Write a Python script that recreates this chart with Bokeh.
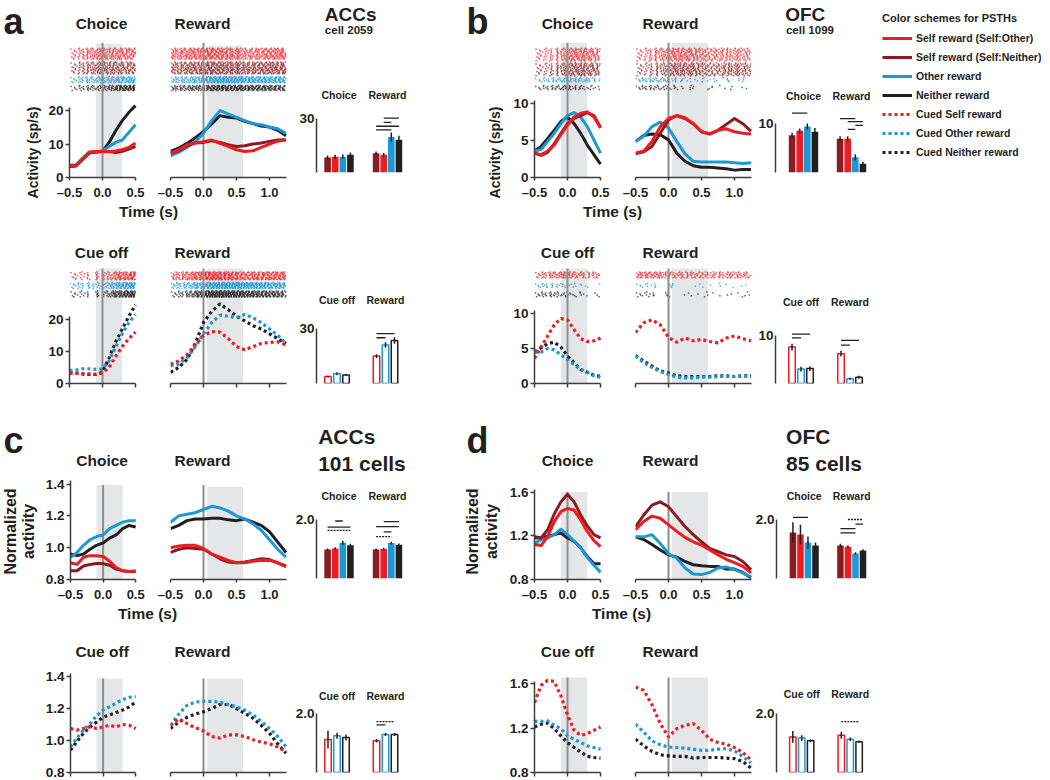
import numpy as np
from bokeh.plotting import figure
from bokeh.layouts import row, column
from bokeh.models import (Range1d, FixedTicker, Label, Legend, LegendItem, Spacer,
                          ColumnDataSource, LinearAxis, PrintfTickFormatter)
from bokeh.embed import file_html
from bokeh.resources import INLINE

FONT = "Liberation Sans"
RED, DKRED, BLUE, BLACK = "#ec1c24", "#8a1c1f", "#1b98d5", "#231f20"
AXC = "#3d3d3d"
SHADE = "#e5e6e7"
ZLINE = "#8e8e8e"

# ---------------------------------------------------------------- data
t_choice = [-0.5, -0.4, -0.3, -0.2, -0.1, 0.0, 0.1, 0.2, 0.3, 0.4, 0.5]
t_reward = [-0.5, -0.375, -0.25, -0.125, 0.0, 0.125, 0.25, 0.375, 0.5, 0.625,
            0.75, 0.875, 1.0, 1.125, 1.25]
choice_window = [-0.1, 0.3]
reward_window = [0.05, 0.6]
choice_ticks = [-0.5, 0, 0.5]
reward_ticks = [-0.5, 0, 0.5, 1.0]
x_tick_labels = {-0.5: "\u20130.5", 0: "0.0", 0.5: "0.5", 1: "1.0"}

# a: ACCs cell 2059 (sp/s)
a_choice_red = [3.5, 3.6, 5.6, 7.6, 7.8, 7.8, 7.7, 7.9, 8.3, 9.0, 10.3]
a_choice_dkred = [3.3, 3.5, 5.5, 7.5, 7.7, 7.8, 7.8, 7.5, 7.8, 8.5, 9.3]
a_choice_blue = [3.7, 3.8, 5.8, 7.5, 7.6, 8.0, 9.3, 10.5, 11.2, 13.5, 15.8]
a_choice_black = [3.3, 3.5, 5.5, 7.3, 7.6, 7.8, 10.5, 14.0, 17.0, 19.5, 21.5]
a_reward_red = [7.3, 8.3, 9.8, 10.4, 10.7, 11.2, 10.2, 9.3, 8.3, 7.8, 8.0, 9.0, 10.0, 10.9, 11.2]
a_reward_dkred = [7.3, 8.0, 9.5, 10.3, 10.5, 11.0, 10.5, 9.8, 9.3, 9.5, 10.0, 10.3, 10.8, 11.2, 11.3]
a_reward_blue = [6.5, 7.6, 9.0, 10.7, 13.2, 17.0, 20.0, 19.0, 18.0, 17.0, 16.1, 15.8, 15.1, 14.6, 13.2]
a_reward_black = [7.8, 8.8, 10.2, 11.9, 13.7, 16.0, 18.5, 18.0, 17.8, 16.8, 16.1, 15.4, 15.1, 14.1, 12.5]
a_cue_red = [3.2, 3.2, 3.0, 3.0, 2.9, 3.3, 5.0, 8.5, 11.5, 14.0, 16.0]
a_cue_blue = [4.0, 4.2, 4.6, 4.6, 4.4, 4.5, 7.0, 11.5, 15.5, 19.0, 21.5]
a_cue_black = [3.3, 3.2, 3.0, 2.8, 2.8, 3.5, 8.0, 13.0, 17.0, 21.0, 24.5]
a_cuedrew_red = [6.0, 7.0, 9.0, 12.0, 15.0, 16.2, 16.0, 14.0, 11.5, 10.5, 11.5, 12.5, 12.8, 13.0, 12.0]
a_cuedrew_blue = [5.5, 6.0, 8.0, 11.5, 15.5, 19.0, 21.3, 21.0, 20.5, 21.5, 20.5, 19.0, 17.0, 15.0, 12.5]
a_cuedrew_black = [3.5, 5.0, 7.5, 12.5, 19.0, 22.5, 24.8, 23.0, 21.0, 19.5, 18.0, 17.0, 15.5, 14.0, 12.5]

# b: OFC cell 1099 (sp/s)
b_choice_red = [3.3, 3.1, 3.6, 4.4, 5.8, 7.1, 8.2, 8.7, 8.9, 8.2, 6.7]
b_choice_dkred = [3.3, 3.0, 3.4, 4.6, 6.0, 7.3, 8.0, 8.4, 8.8, 8.4, 6.8]
b_choice_blue = [3.6, 3.8, 4.9, 6.0, 7.3, 8.4, 8.8, 8.2, 6.9, 5.1, 3.3]
b_choice_black = [3.6, 4.2, 5.3, 6.4, 7.6, 8.2, 7.3, 6.0, 4.4, 3.1, 1.8]
b_reward_red = [3.3, 3.6, 4.9, 6.9, 8.0, 8.4, 8.1, 7.3, 6.2, 5.9, 6.4, 6.6, 6.2, 6.0, 5.9]
b_reward_dkred = [3.2, 3.5, 4.2, 6.0, 7.8, 8.4, 8.0, 7.3, 6.2, 5.9, 6.4, 7.2, 8.0, 7.3, 6.3]
b_reward_blue = [4.9, 5.6, 6.9, 7.5, 6.7, 4.9, 3.2, 2.2, 2.1, 2.1, 2.1, 2.1, 2.0, 1.9, 2.0]
b_reward_black = [4.9, 5.7, 5.9, 5.8, 5.1, 3.3, 2.2, 1.6, 1.4, 1.4, 1.3, 1.2, 1.0, 1.1, 1.1]
b_cue_red = [3.6, 5.2, 6.8, 8.4, 9.3, 9.1, 7.7, 6.4, 6.0, 6.1, 6.5]
b_cue_blue = [4.5, 4.5, 5.0, 4.8, 4.1, 3.4, 2.7, 2.0, 1.6, 1.1, 0.9]
b_cue_black = [4.5, 5.1, 5.7, 5.9, 5.2, 3.9, 3.0, 2.0, 1.6, 1.2, 1.0]
b_cuedrew_red = [7.3, 8.7, 9.1, 8.4, 6.6, 5.9, 6.5, 6.1, 6.3, 6.0, 5.8, 6.5, 6.8, 6.4, 6.1]
b_cuedrew_blue = [3.9, 3.0, 2.3, 1.7, 1.3, 0.9, 0.8, 0.8, 0.9, 0.9, 1.0, 1.0, 1.0, 1.0, 1.0]
b_cuedrew_black = [4.0, 3.2, 2.5, 1.8, 1.5, 1.1, 1.0, 1.0, 1.0, 1.0, 1.1, 1.1, 1.0, 1.1, 1.1]

# c: ACCs 101 cells (normalized)
c_choice_red = [0.905, 0.895, 0.94, 0.95, 0.95, 0.945, 0.915, 0.875, 0.855, 0.85, 0.855]
c_choice_dkred = [0.855, 0.855, 0.885, 0.895, 0.9, 0.9, 0.89, 0.865, 0.855, 0.85, 0.85]
c_choice_blue = [0.94, 0.97, 1.015, 1.05, 1.07, 1.08, 1.12, 1.14, 1.16, 1.17, 1.17]
c_choice_black = [0.96, 0.95, 0.96, 0.99, 1.015, 1.03, 1.06, 1.08, 1.12, 1.14, 1.13]
c_reward_red = [1.0, 1.01, 1.015, 1.015, 0.995, 0.96, 0.94, 0.92, 0.905, 0.905, 0.915, 0.92, 0.92, 0.905, 0.88]
c_reward_dkred = [0.97, 0.99, 1.0, 0.995, 0.99, 0.96, 0.93, 0.91, 0.905, 0.91, 0.92, 0.93, 0.925, 0.905, 0.885]
c_reward_blue = [1.16, 1.2, 1.21, 1.22, 1.24, 1.26, 1.25, 1.23, 1.2, 1.18, 1.15, 1.11, 1.05, 0.99, 0.94]
c_reward_black = [1.12, 1.14, 1.17, 1.18, 1.18, 1.185, 1.185, 1.175, 1.17, 1.18, 1.16, 1.14, 1.1, 1.035, 0.97]
c_cue_red = [1.075, 1.065, 1.075, 1.085, 1.075, 1.085, 1.095, 1.085, 1.1, 1.095, 1.075]
c_cue_blue = [0.96, 1.015, 1.065, 1.105, 1.155, 1.19, 1.21, 1.235, 1.255, 1.27, 1.275]
c_cue_black = [0.94, 0.995, 1.045, 1.085, 1.115, 1.145, 1.16, 1.175, 1.19, 1.21, 1.24]
c_cuedrew_red = [1.095, 1.135, 1.105, 1.08, 1.06, 1.025, 1.015, 1.035, 1.035, 1.025, 1.005, 0.99, 0.98, 0.96, 0.93]
c_cuedrew_blue = [1.095, 1.165, 1.22, 1.24, 1.245, 1.245, 1.24, 1.225, 1.21, 1.19, 1.16, 1.12, 1.075, 1.025, 0.96]
c_cuedrew_black = [1.075, 1.115, 1.145, 1.165, 1.18, 1.2, 1.225, 1.225, 1.2, 1.17, 1.14, 1.095, 1.045, 0.98, 0.92]

# d: OFC 85 cells (normalized)
d_choice_red = [1.12, 1.11, 1.195, 1.33, 1.42, 1.45, 1.435, 1.345, 1.24, 1.155, 1.1]
d_choice_dkred = [1.18, 1.18, 1.255, 1.4, 1.51, 1.58, 1.51, 1.39, 1.29, 1.21, 1.18]
d_choice_blue = [1.13, 1.165, 1.18, 1.21, 1.26, 1.21, 1.15, 1.09, 1.0, 0.93, 0.865]
d_choice_black = [1.19, 1.18, 1.195, 1.21, 1.225, 1.18, 1.15, 1.09, 1.01, 0.945, 0.945]
d_reward_red = [1.255, 1.33, 1.38, 1.36, 1.3, 1.24, 1.185, 1.145, 1.115, 1.07, 1.025, 0.985, 0.955, 0.92, 0.86]
d_reward_dkred = [1.28, 1.39, 1.48, 1.51, 1.465, 1.375, 1.285, 1.21, 1.145, 1.085, 1.055, 1.025, 1.01, 0.965, 0.89]
d_reward_blue = [1.19, 1.19, 1.21, 1.13, 1.035, 0.995, 0.905, 0.85, 0.845, 0.865, 0.905, 0.915, 0.89, 0.86, 0.825]
d_reward_black = [1.19, 1.165, 1.12, 1.07, 1.025, 1.005, 0.965, 0.935, 0.925, 0.92, 0.92, 0.895, 0.895, 0.865, 0.815]
d_cue_red = [1.43, 1.585, 1.63, 1.62, 1.49, 1.32, 1.18, 1.135, 1.15, 1.18, 1.21]
d_cue_blue = [1.26, 1.26, 1.265, 1.225, 1.195, 1.13, 1.1, 1.07, 1.04, 1.025, 1.01]
d_cue_black = [1.21, 1.235, 1.245, 1.195, 1.13, 1.07, 1.025, 0.985, 0.945, 0.935, 0.93]
d_cuedrew_red = [1.57, 1.54, 1.41, 1.24, 1.12, 1.195, 1.225, 1.24, 1.18, 1.1, 1.07, 1.055, 1.025, 0.98, 0.915]
d_cuedrew_blue = [1.235, 1.165, 1.085, 1.05, 1.03, 1.025, 1.02, 1.01, 1.0, 1.0, 1.01, 1.015, 0.995, 0.945, 0.885]
d_cuedrew_black = [1.1, 1.04, 0.99, 0.96, 0.95, 0.945, 0.945, 0.93, 0.935, 0.935, 0.935, 0.93, 0.925, 0.9, 0.84]

# bar charts (order: self:neither, self:other, other, neither / cued self, other, neither)
a_bar_choice = [8.4, 8.8, 8.8, 9.9];   a_bar_choice_err = [1.0, 1.0, 1.2, 1.2]
a_bar_reward = [10.7, 9.9, 19.7, 18.2]; a_bar_reward_err = [1.0, 1.0, 2.5, 2.2]
a_sig_reward = [(1, 3, 30.2, "solid"), (1, 2, 27.9, "solid"), (0, 3, 25.7, "solid"), (0, 2, 23.7, "solid")]
a_bar_cue = [3.8, 5.3, 4.7];          a_bar_cue_err = [0.5, 0.8, 0.5]
a_bar_cuedrew = [15.0, 21.0, 23.5];   a_bar_cuedrew_err = [1.0, 1.5, 1.8]
a_sig_cuedrew = [(0, 2, 27.3, "solid"), (0, 1, 25.0, "solid")]

b_bar_choice = [7.6, 8.5, 9.4, 8.3];  b_bar_choice_err = [0.5, 0.5, 0.6, 0.8]
b_sig_choice = [(0, 2, 12.1, "solid")]
b_bar_reward = [6.9, 6.9, 3.1, 1.8];  b_bar_reward_err = [0.5, 0.5, 0.6, 0.4]
b_sig_reward = [(0, 2, 11.0, "solid"), (1, 3, 10.4, "solid"), (2, 3, 9.6, "solid"), (1, 2, 8.8, "solid")]
b_bar_cue = [7.6, 3.0, 3.1];          b_bar_cue_err = [0.7, 0.5, 0.5]
b_sig_cue = [(0, 2, 10.3, "solid"), (0, 1, 9.5, "solid")]
b_bar_cuedrew = [6.2, 1.0, 1.3];      b_bar_cuedrew_err = [0.6, 0.2, 0.3]
b_sig_cuedrew = [(0, 2, 9.0, "solid"), (0, 1, 8.0, "solid")]

c_bar_choice = [0.98, 1.02, 1.21, 1.13]; c_bar_choice_err = [0.04, 0.04, 0.07, 0.05]
c_sig_choice = [(1, 2, 1.95, "solid"), (0, 3, 1.74, "solid"), (0, 3, 1.63, "dashed")]
c_bar_reward = [0.98, 1.0, 1.2, 1.14];   c_bar_reward_err = [0.04, 0.04, 0.05, 0.05]
c_sig_reward = [(1, 3, 1.93, "solid"), (0, 3, 1.76, "solid"), (1, 2, 1.58, "solid"), (0, 2, 1.42, "dashed")]
c_bar_cue = [1.12, 1.25, 1.19];          c_bar_cue_err = [0.3, 0.1, 0.1]
c_bar_cuedrew = [1.08, 1.29, 1.29];      c_bar_cuedrew_err = [0.06, 0.05, 0.05]
c_sig_cuedrew = [(0, 2, 1.73, "dashed"), (0, 1, 1.62, "solid")]

d_bar_choice = [1.56, 1.49, 1.22, 1.12]; d_bar_choice_err = [0.35, 0.33, 0.2, 0.1]
d_sig_choice = [(0, 2, 2.07, "solid")]
d_bar_reward = [1.12, 1.08, 0.85, 0.95]; d_bar_reward_err = [0.06, 0.05, 0.04, 0.04]
d_sig_reward = [(1, 3, 2.0, "dashed"), (2, 3, 1.84, "solid"), (0, 2, 1.69, "solid"), (0, 2, 1.55, "solid")]
d_bar_cue = [1.21, 1.17, 1.08];          d_bar_cue_err = [0.2, 0.1, 0.05]
d_bar_cuedrew = [1.27, 1.13, 1.05];      d_bar_cuedrew_err = [0.12, 0.06, 0.04]
d_sig_cuedrew = [(0, 2, 1.73, "dashed")]

legend_labels = ["Self reward (Self:Other)", "Self reward (Self:Neither)", "Other reward",
                 "Neither reward", "Cued Self reward", "Cued Other reward", "Cued Neither reward"]
legend_colors = [RED, DKRED, BLUE, BLACK, RED, BLUE, BLACK]
legend_dotted = [False, False, False, False, True, True, True]

# ---------------------------------------------------------------- layout constants (page px)
SX = 66.0
T0 = (0, 42)
L1, L2, L3 = (42, 150, 69), (150, 288, 170), (288, 460, 316)
T1 = (460, 506)
R1, R2, R3 = (506, 620, 534), (620, 752, 635), (752, 870, 775)
LEGX = (870, 1050)
B1, B2, B3, B4 = (0, 224), (224, 410), (410, 626), (626, 780)
BASE_FIX = 0.42   # text baseline compensation (fraction of font size)
MID_FIX = 0.20
PI2 = np.pi / 2


def ident(v):
    return v


def make_fig(fx0, fx1, fy0, fy1, fl, fb, x0, sx, y0, sy):
    p = figure(width=fx1 - fx0, height=fy1 - fy0, output_backend="svg", toolbar_location=None,
               x_axis_location=None, y_axis_location=None, min_border=0,
               min_border_left=fl - fx0, min_border_right=0, min_border_top=0,
               min_border_bottom=fy1 - fb,
               x_range=Range1d(x0, x0 + (fx1 - fl) / sx),
               y_range=Range1d(y0, y0 + (fb - fy0) / sy))
    p.outline_line_color = None
    p.grid.visible = False
    p.title.visible = False

    def fx(X):
        return x0 + (X - fl) / sx

    def fy(Y):
        return y0 + (fb - Y) / sy
    return p, fx, fy


def text_fig(xs, ys):
    p = figure(width=xs[1] - xs[0], height=ys[1] - ys[0], output_backend="svg",
               toolbar_location=None, x_axis_location=None, y_axis_location=None, min_border=0,
               x_range=Range1d(xs[0], xs[1]), y_range=Range1d(ys[1], ys[0]))
    p.outline_line_color = None
    p.grid.visible = False
    p.title.visible = False
    return p


def add_axis(p, side, ticks, bounds, overrides=None, fmt=None, labels=True, tick_out=4, standoff=3,
             size="13.5px"):
    ax = LinearAxis(ticker=FixedTicker(ticks=ticks), bounds=bounds)
    if overrides:
        ax.major_label_overrides = overrides
    if fmt:
        ax.formatter = PrintfTickFormatter(format=fmt)
    ax.axis_line_color = AXC
    ax.axis_line_width = 1.5
    ax.major_tick_line_color = AXC if tick_out > 0 else None
    ax.major_tick_line_width = 1.5
    ax.major_tick_in = 0
    ax.major_tick_out = tick_out
    ax.minor_tick_line_color = None
    ax.major_label_standoff = standoff
    ax.major_label_text_font = FONT
    ax.major_label_text_font_style = "bold"
    ax.major_label_text_font_size = size if labels else "0px"
    ax.major_label_text_color = BLACK
    p.add_layout(ax, side)


def lab(p, fx, fy, x, y, text, size, align="left", rotated=False):
    s = float(size.replace("px", ""))
    if rotated:
        p.add_layout(Label(x=fx(x - MID_FIX * s), y=fy(y), text=text, text_font=FONT,
                           text_font_size=size, text_font_style="bold", text_align="center",
                           text_baseline="middle", angle=PI2, text_color=BLACK))
    else:
        p.add_layout(Label(x=fx(x), y=fy(y - BASE_FIX * s), text=text, text_font=FONT,
                           text_font_size=size, text_font_style="bold", text_align=align,
                           text_baseline="alphabetic", text_color=BLACK))


def raster(p, fy, times, rates, ytop, ybot, color, dens=2.4):
    t0, t1 = times[0], times[-1]
    dt = 0.004
    tt = np.arange(t0, t1 + 1e-9, dt)
    r = np.interp(tt, times, rates)
    n = int(round(ybot - ytop))
    xs, ys = [], []
    for k in range(n):
        g = 0.65 + 0.7 * ((k * 0.6180339887) % 1.0)
        c = ((k * 0.7548776662) % 1.0) + np.cumsum(r * g * dens * dt)
        idx = np.nonzero(np.diff(np.floor(c)) > 0)[0] + 1
        ts = tt[idx]
        j = np.arange(len(ts))
        ts = ts + (((j * 0.5698402910 + k * 0.3247179572) % 1.0) - 0.5) * 0.03
        ts = ts[(ts >= t0) & (ts <= t1)]
        xs.extend(ts.tolist())
        ys.extend([fy(ytop + (k + 0.5) * (ybot - ytop) / n)] * len(ts))
    p.scatter(x=xs, y=ys, marker="square", size=1.5, fill_color=color, line_color=None,
              fill_alpha=0.7)


def psth(col, band, fb, sy, y0, times, curves, window, shade_top, line_top, title, title_x,
         title_base, yaxis=None, xlabels=True, rasters=()):
    fx0, fx1, fl = col
    fy0, fy1 = band
    p, fx, fy = make_fig(fx0, fx1, fy0, fy1, fl, fb, -0.5, SX, y0, sy)
    p.quad(left=[window[0]], right=[window[1]], bottom=[y0], top=[fy(shade_top)],
           fill_color=SHADE, line_color=None)
    for vals, color, (ra, rb) in rasters:
        raster(p, fy, times, vals, ra, rb, color)
    p.segment(x0=[0], y0=[y0], x1=[0], y1=[fy(line_top)], line_color=ZLINE, line_width=2)
    for vals, color, dotted in curves:
        if dotted:
            p.line(times, vals, line_color=color, line_width=3.2, line_dash="3 3")
        else:
            p.line(times, vals, line_color=color, line_width=3, line_join="round")
    ticks = choice_ticks if times[-1] < 1 else reward_ticks
    if xlabels:
        add_axis(p, "below", ticks, (times[0], times[-1]), overrides=x_tick_labels,
                 tick_out=3, standoff=4, size="13px")
    else:
        add_axis(p, "below", ticks, (times[0], times[-1]), labels=False, tick_out=4, standoff=0)
    if yaxis:
        yt, yb, yf = yaxis
        add_axis(p, "left", yt, yb, fmt=yf, standoff=2)
    lab(p, fx, fy, title_x, title_base, title, "15.5px", align="center")
    return p


def bar_fig(col, band, fb, sy, ytop, yfmt, groups):
    fx0, fx1, ax = col
    fy0, fy1 = band
    p, fx, fy = make_fig(fx0, fx1, fy0, fy1, ax, fb, 0.0, 1.0, 0.0, sy)
    add_axis(p, "left", [ytop], (0, ytop), fmt=yfmt, tick_out=0, standoff=2)
    for center, vals, errs, colors, filled, title, title_base, sig in groups:
        n = len(vals)
        pitch, w = (7.6, 6.6) if n == 4 else (9.0, 8.0)
        xs = [center + (i - (n - 1) / 2.0) * pitch for i in range(n)]
        src = ColumnDataSource(dict(x=xs, top=vals,
                                    lo=[v - e for v, e in zip(vals, errs)],
                                    hi=[v + e for v, e in zip(vals, errs)], color=colors))
        if filled:
            p.vbar(x="x", top="top", bottom=0, width=w, fill_color="color", line_color=None,
                   source=src)
        else:
            p.vbar(x="x", top="top", bottom=0, width=w - 1.5, fill_color="white",
                   line_color="color", line_width=1.5, source=src)
        p.segment(x0="x", y0="lo", x1="x", y1="hi", line_color=BLACK, line_width=1.5, source=src)
        for i, j, lvl, style in sig:
            p.segment(x0=[xs[i]], y0=[lvl], x1=[xs[j]], y1=[lvl], line_color=BLACK,
                      line_width=1.3, line_dash="solid" if style == "solid" else "2 1")
        lab(p, ident, fy, center, title_base, title, "10.5px", align="center")
    return p


C4 = [DKRED, RED, BLUE, BLACK]
C3 = [RED, BLUE, BLACK]
ya = ([0, 10, 20], (0, 21), "%d")
yb = ([0, 5, 10], (0, 10.4), "%d")
yc = ([0.8, 1.0, 1.2, 1.4], (0.8, 1.42), "%.1f")
yd = ([0.8, 1.2, 1.6], (0.8, 1.62), "%.1f")

# ---------------------------------------------------------------- band 1 (a, b top)
U1 = (0, 202)
pa1c = psth(L1, U1, 180, 3.4, 0, t_choice,
            [(a_choice_black, BLACK, False), (a_choice_blue, BLUE, False),
             (a_choice_dkred, DKRED, False), (a_choice_red, RED, False)],
            choice_window, 44, 43, "Choice", 101, 30, yaxis=ya,
            rasters=[(a_choice_red, RED, (48, 60)), (a_choice_dkred, DKRED, (62, 75)),
                     (a_choice_blue, BLUE, (77, 84)), (a_choice_black, BLACK, (86, 92))])
pa1r = psth(L2, U1, 180, 3.4, 0, t_reward,
            [(a_reward_black, BLACK, False), (a_reward_blue, BLUE, False),
             (a_reward_dkred, DKRED, False), (a_reward_red, RED, False)],
            reward_window, 46, 43, "Reward", 202, 30,
            rasters=[(a_reward_red, RED, (48, 60)), (a_reward_dkred, DKRED, (62, 75)),
                     (a_reward_blue, BLUE, (77, 84)), (a_reward_black, BLACK, (86, 92))])
pa1b = bar_fig(L3, (40, 224), 172, 1.8, 30, "%d",
               [(22.5, a_bar_choice, a_bar_choice_err, C4, True, "Choice", 99, []),
                (71, a_bar_reward, a_bar_reward_err, C4, True, "Reward", 99, a_sig_reward)])
ta1 = text_fig((L3[0], L3[1]), (0, 40))
lab(ta1, ident, ident, 298, 22, "ACCs", "19px")
lab(ta1, ident, ident, 298, 34, "cell 2059", "11.5px")
t0a = text_fig(T0, B1)
lab(t0a, ident, ident, 3, 36, "a", "36px")
lab(t0a, ident, ident, 35, 152, "Activity (sp/s)", "14px", rotated=True)
sa1 = text_fig((L1[0], L2[1]), (202, 224))
lab(sa1, ident, ident, 148, 218, "Time (s)", "15.5px", align="center")

pb1c = psth(R1, U1, 180, 7.5, 0, t_choice,
            [(b_choice_black, BLACK, False), (b_choice_blue, BLUE, False),
             (b_choice_dkred, DKRED, False), (b_choice_red, RED, False)],
            choice_window, 43, 43, "Choice", 567, 30, yaxis=yb,
            rasters=[(b_choice_red, RED, (48, 62)), (b_choice_dkred, DKRED, (63, 77)),
                     (b_choice_blue, BLUE, (78, 83)), (b_choice_black, BLACK, (86, 91))])
pb1r = psth(R2, U1, 180, 7.5, 0, t_reward,
            [(b_reward_black, BLACK, False), (b_reward_blue, BLUE, False),
             (b_reward_dkred, DKRED, False), (b_reward_red, RED, False)],
            reward_window, 43, 43, "Reward", 670, 30,
            rasters=[(b_reward_red, RED, (48, 62)), (b_reward_dkred, DKRED, (63, 77)),
                     (b_reward_blue, BLUE, (78, 83)), (b_reward_black, BLACK, (86, 91))])
pb1b = bar_fig(R3, (40, 224), 172, 4.9, 10, "%d",
               [(28, b_bar_choice, b_bar_choice_err, C4, True, "Choice", 100, b_sig_choice),
                (76, b_bar_reward, b_bar_reward_err, C4, True, "Reward", 100, b_sig_reward)])
tb1 = text_fig((R3[0], R3[1]), (0, 40))
lab(tb1, ident, ident, 764, 22, "OFC", "19px")
lab(tb1, ident, ident, 765, 34, "cell 1099", "11.5px")
t1b = text_fig(T1, B1)
lab(t1b, ident, ident, 466, 36, "b", "36px")
lab(t1b, ident, ident, 497, 152, "Activity (sp/s)", "14px", rotated=True)
sb1 = text_fig((R1[0], R2[1]), (202, 224))
lab(sb1, ident, ident, 612, 218, "Time (s)", "15.5px", align="center")

# legend
pl = figure(width=LEGX[1] - LEGX[0], height=B1[1] - B1[0], output_backend="svg",
            toolbar_location=None, x_axis_location=None, y_axis_location=None, min_border=0,
            x_range=Range1d(100, 101), y_range=Range1d(100, 101))
pl.outline_line_color = None
pl.grid.visible = False
pl.title.visible = False
items = []
for lbl, colr, dot in zip(legend_labels, legend_colors, legend_dotted):
    rr = pl.line(t_choice, a_choice_red, line_color=colr, line_width=3,
                 line_dash="3 3" if dot else "solid")
    items.append(LegendItem(label=lbl, renderers=[rr]))
leg = Legend(items=items, location="top_left", border_line_color=None, background_fill_alpha=0,
             padding=0, margin=12, spacing=5, glyph_width=30, glyph_height=14, label_height=14,
             label_standoff=4, label_text_font=FONT, label_text_font_size="10.5px",
             label_text_font_style="bold", label_text_color=BLACK,
             title="Color schemes for PSTHs", title_text_font=FONT, title_text_font_size="11px",
             title_text_font_style="bold", title_text_color=BLACK, title_standoff=7)
pl.add_layout(leg)

# ---------------------------------------------------------------- band 2 (a, b bottom)
pa2c = psth(L1, B2, 390, 3.35, 0, t_choice,
            [(a_cue_black, BLACK, True), (a_cue_blue, BLUE, True), (a_cue_red, RED, True)],
            choice_window, 270, 270, "Cue off", 101, 260, yaxis=ya, xlabels=False,
            rasters=[(a_cue_red, RED, (273, 282)), (a_cue_blue, BLUE, (284, 291)),
                     (a_cue_black, BLACK, (293, 300))])
pa2r = psth(L2, B2, 390, 3.35, 0, t_reward,
            [(a_cuedrew_black, BLACK, True), (a_cuedrew_blue, BLUE, True),
             (a_cuedrew_red, RED, True)],
            reward_window, 270, 270, "Reward", 202, 260, xlabels=False,
            rasters=[(a_cuedrew_red, RED, (273, 282)), (a_cuedrew_blue, BLUE, (284, 291)),
                     (a_cuedrew_black, BLACK, (293, 300))])
pa2b = bar_fig(L3, B2, 383, 1.83, 30, "%d",
               [(20.5, a_bar_cue, a_bar_cue_err, C3, False, "Cue off", 304, []),
                (69, a_bar_cuedrew, a_bar_cuedrew_err, C3, False, "Reward", 304, a_sig_cuedrew)])
pb2c = psth(R1, B2, 390, 7.3, 0, t_choice,
            [(b_cue_black, BLACK, True), (b_cue_blue, BLUE, True), (b_cue_red, RED, True)],
            choice_window, 270, 270, "Cue off", 567, 260, yaxis=yb, xlabels=False,
            rasters=[(b_cue_red, RED, (273, 280)), (b_cue_blue, BLUE, (285, 290)),
                     (b_cue_black, BLACK, (294, 300))])
pb2r = psth(R2, B2, 390, 7.3, 0, t_reward,
            [(b_cuedrew_black, BLACK, True), (b_cuedrew_blue, BLUE, True),
             (b_cuedrew_red, RED, True)],
            reward_window, 270, 270, "Reward", 670, 260, xlabels=False,
            rasters=[(b_cuedrew_red, RED, (273, 280)), (b_cuedrew_blue, BLUE, (285, 290)),
                     (b_cuedrew_black, BLACK, (294, 300))])
pb2b = bar_fig(R3, B2, 383, 4.8, 10, "%d",
               [(25.5, b_bar_cue, b_bar_cue_err, C3, False, "Cue off", 306, b_sig_cue),
                (74.5, b_bar_cuedrew, b_bar_cuedrew_err, C3, False, "Reward", 306, b_sig_cuedrew)])

# ---------------------------------------------------------------- band 3 (c, d top)
U3 = (410, 604)
pc3c = psth(L1, U3, 580, 160, 0.8, t_choice,
            [(c_choice_black, BLACK, False), (c_choice_blue, BLUE, False),
             (c_choice_dkred, DKRED, False), (c_choice_red, RED, False)],
            choice_window, 485, 485, "Choice", 101, 467, yaxis=yc)
pc3r = psth(L2, U3, 580, 160, 0.8, t_reward,
            [(c_reward_black, BLACK, False), (c_reward_blue, BLUE, False),
             (c_reward_dkred, DKRED, False), (c_reward_red, RED, False)],
            reward_window, 487, 485, "Reward", 202, 467)
pc3b = bar_fig(L3, (482, 626), 578, 29.5, 2.0, "%.1f",
               [(22.5, c_bar_choice, c_bar_choice_err, C4, True, "Choice", 500, c_sig_choice),
                (71, c_bar_reward, c_bar_reward_err, C4, True, "Reward", 500, c_sig_reward)])
tc3 = text_fig((L3[0], L3[1]), (410, 482))
lab(tc3, ident, ident, 290, 445, "ACCs", "21px")
lab(tc3, ident, ident, 290, 472, "101 cells", "21px")
t0c = text_fig(T0, B3)
lab(t0c, ident, ident, 3, 455, "c", "36px")
lab(t0c, ident, ident, 13, 531, "Normalized", "16px", rotated=True)
lab(t0c, ident, ident, 31, 531, "activity", "16px", rotated=True)
sc3 = text_fig((L1[0], L2[1]), (604, 626))
lab(sc3, ident, ident, 147, 620, "Time (s)", "15.5px", align="center")

pd3c = psth(R1, U3, 580, 110, 0.8, t_choice,
            [(d_choice_black, BLACK, False), (d_choice_blue, BLUE, False),
             (d_choice_dkred, DKRED, False), (d_choice_red, RED, False)],
            choice_window, 492, 492, "Choice", 567, 467, yaxis=yd)
pd3r = psth(R2, U3, 580, 110, 0.8, t_reward,
            [(d_reward_black, BLACK, False), (d_reward_blue, BLUE, False),
             (d_reward_dkred, DKRED, False), (d_reward_red, RED, False)],
            reward_window, 492, 492, "Reward", 670, 467)
pd3b = bar_fig(R3, (482, 626), 578, 29.5, 2.0, "%.1f",
               [(28, d_bar_choice, d_bar_choice_err, C4, True, "Choice", 500, d_sig_choice),
                (76, d_bar_reward, d_bar_reward_err, C4, True, "Reward", 500, d_sig_reward)])
td3 = text_fig((R3[0], R3[1]), (410, 482))
lab(td3, ident, ident, 764, 445, "OFC", "21px")
lab(td3, ident, ident, 764, 472, "85 cells", "21px")
t1d = text_fig(T1, B3)
lab(t1d, ident, ident, 466, 455, "d", "36px")
lab(t1d, ident, ident, 475, 531, "Normalized", "16px", rotated=True)
lab(t1d, ident, ident, 494, 531, "activity", "16px", rotated=True)
sd3 = text_fig((R1[0], R2[1]), (604, 626))
lab(sd3, ident, ident, 621, 620, "Time (s)", "15.5px", align="center")

# ---------------------------------------------------------------- band 4 (c, d bottom)
pc4c = psth(L1, B4, 772, 160, 0.8, t_choice,
            [(c_cue_black, BLACK, True), (c_cue_blue, BLUE, True), (c_cue_red, RED, True)],
            choice_window, 678, 678, "Cue off", 101, 658, yaxis=yc, xlabels=False)
pc4r = psth(L2, B4, 772, 160, 0.8, t_reward,
            [(c_cuedrew_black, BLACK, True), (c_cuedrew_blue, BLUE, True),
             (c_cuedrew_red, RED, True)],
            reward_window, 678, 678, "Reward", 202, 658, xlabels=False)
pc4b = bar_fig(L3, B4, 775, 30, 2.0, "%.1f",
               [(20.5, c_bar_cue, c_bar_cue_err, C3, False, "Cue off", 701, []),
                (69, c_bar_cuedrew, c_bar_cuedrew_err, C3, False, "Reward", 701, c_sig_cuedrew)])
pd4c = psth(R1, B4, 772, 111, 0.8, t_choice,
            [(d_cue_black, BLACK, True), (d_cue_blue, BLUE, True), (d_cue_red, RED, True)],
            choice_window, 677, 677, "Cue off", 567, 658, yaxis=yd, xlabels=False)
pd4r = psth(R2, B4, 772, 111, 0.8, t_reward,
            [(d_cuedrew_black, BLACK, True), (d_cuedrew_blue, BLUE, True),
             (d_cuedrew_red, RED, True)],
            reward_window, 677, 677, "Reward", 670, 658, xlabels=False)
pd4b = bar_fig(R3, B4, 775, 30, 2.0, "%.1f",
               [(25.5, d_bar_cue, d_bar_cue_err, C3, False, "Cue off", 699, []),
                (74.5, d_bar_cuedrew, d_bar_cuedrew_err, C3, False, "Reward", 699, d_sig_cuedrew)])


def sp(w, band):
    return Spacer(width=w, height=band[1] - band[0])


band1 = row(t0a, column(row(pa1c, pa1r), sa1), column(ta1, pa1b), t1b,
            column(row(pb1c, pb1r), sb1), column(tb1, pb1b), pl)
band2 = row(sp(T0[1] - T0[0], B2), pa2c, pa2r, pa2b, sp(T1[1] - T1[0], B2), pb2c, pb2r, pb2b,
            sp(LEGX[1] - LEGX[0], B2))
band3 = row(t0c, column(row(pc3c, pc3r), sc3), column(tc3, pc3b), t1d,
            column(row(pd3c, pd3r), sd3), column(td3, pd3b), sp(LEGX[1] - LEGX[0], B3))
band4 = row(sp(T0[1] - T0[0], B4), pc4c, pc4r, pc4b, sp(T1[1] - T1[0], B4), pd4c, pd4r, pd4b,
            sp(LEGX[1] - LEGX[0], B4))
layout = column(band1, band2, band3, band4)

open("out.html", "w").write(file_html(layout, INLINE))
